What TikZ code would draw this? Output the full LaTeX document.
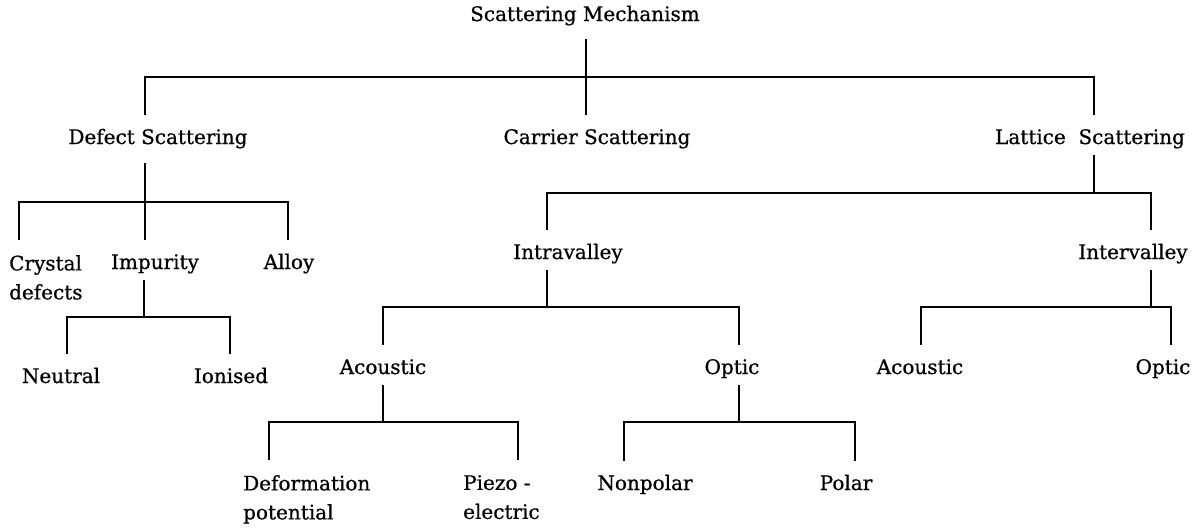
\documentclass[tikz,border=0pt]{standalone}
\usepackage{fontspec}
\setmainfont{DejaVu Serif}[FakeBold=0.7]
\usetikzlibrary{calc}

\begin{document}
\begin{tikzpicture}[
            x=1pt, y=-1pt,
            font=\fontsize{20}{29}\selectfont,
                item/.style = {anchor=base, inner xsep=0pt, inner ysep=6pt,% one-line labels
                               text height=23pt, text depth=5pt},
                pair/.style = {anchor=north west, align=left,% two-line labels
                               inner xsep=0pt, inner ysep=15pt},
                link/.style = {line width=2.1pt},
                ]
\useasboundingbox (0,0) rectangle (1200,528);
% labels
\node[item] (root)     at (585,21)  {Scattering Mechanism};
\node[item] (defect)   at (158,144) {Defect Scattering};
\node[item] (carrier)  at (597,144) {Carrier Scattering};
\node[item] (lattice)  at (1090,144) {Lattice\ \ Scattering};
\node[pair] (crystal)  at (9,240)   {Crystal\\defects};
\node[item] (impurity) at (155,269) {Impurity};
\node[item] (alloy)    at (289,269) {Alloy};
\node[item] (neutral)  at (61,383)  {Neutral};
\node[item] (ionised)  at (231,383) {Ionised};
\node[item] (intra)    at (568,259) {Intravalley};
\node[item] (inter)    at (1133,259) {Intervalley};
\node[item] (acou)     at (383,374) {Acoustic};
\node[item] (opt)      at (732,374) {Optic};
\node[item] (acou2)    at (920,374) {Acoustic};
\node[item] (opt2)     at (1163,374) {Optic};
\node[pair] (deform)   at (243,460) {Deformation\\potential};
\node[pair] (piezo)    at (463,460) {Piezo -\\electric};
\node[item] (nonpolar) at (645,490) {Nonpolar};
\node[item] (polar)    at (846,490) {Polar};
% junctions of the bars
\coordinate (j0) at (586,77);  \coordinate (j0l) at (145,77);  \coordinate (j0r) at (1094,77);
\coordinate (j1) at (145,202); \coordinate (j1l) at (19,202);  \coordinate (j1r) at (288,202);
\coordinate (j2) at (144,317); \coordinate (j2l) at (67,317);  \coordinate (j2r) at (230,317);
\coordinate (j3) at (1094,193); \coordinate (j3l) at (547,193); \coordinate (j3r) at (1151,193);
\coordinate (j4) at (547,307); \coordinate (j4l) at (383,307); \coordinate (j4r) at (739,307);
\coordinate (j5) at (1151,307); \coordinate (j5l) at (921,307); \coordinate (j5r) at (1171,307);
\coordinate (j6) at (383,422); \coordinate (j6l) at (269,422); \coordinate (j6r) at (518,422);
\coordinate (j7) at (739,422); \coordinate (j7l) at (624,422); \coordinate (j7r) at (855,422);
% tree
\draw[link] ($(root.south -| j0)+(0,7)$) -- (j0 |- carrier.north);
\draw[link] (j0l |- defect.north) -- (j0l) -- (j0r) -- (j0r |- lattice.north);
\draw[link] ($(defect.south -| j1)+(0,8)$) -- (j1 |- impurity.north);
\draw[link] (j1l |- impurity.north) -- (j1l) -- (j1r) -- (j1r |- alloy.north);
\draw[link] (impurity.south -| j2) -- (j2);
\draw[link] (j2l |- neutral.north) -- (j2l) -- (j2r) -- (j2r |- ionised.north);
\draw[link] (lattice.south -| j3) -- (j3);
\draw[link] (j3l |- intra.north) -- (j3l) -- (j3r) -- (j3r |- inter.north);
\draw[link] (intra.south -| j4) -- (j4);
\draw[link] (j4l |- acou.north) -- (j4l) -- (j4r) -- (j4r |- opt.north);
\draw[link] (inter.south -| j5) -- (j5);
\draw[link] (j5l |- acou2.north) -- (j5l) -- (j5r) -- (j5r |- opt2.north);
\draw[link] (acou.south -| j6) -- (j6);
\draw[link] (j6l |- deform.north) -- (j6l) -- (j6r) -- (j6r |- piezo.north);
\draw[link] (opt.south -| j7) -- (j7);
\draw[link] (j7l |- nonpolar.north) -- (j7l) -- (j7r) -- (j7r |- polar.north);
\end{tikzpicture}
\end{document}
